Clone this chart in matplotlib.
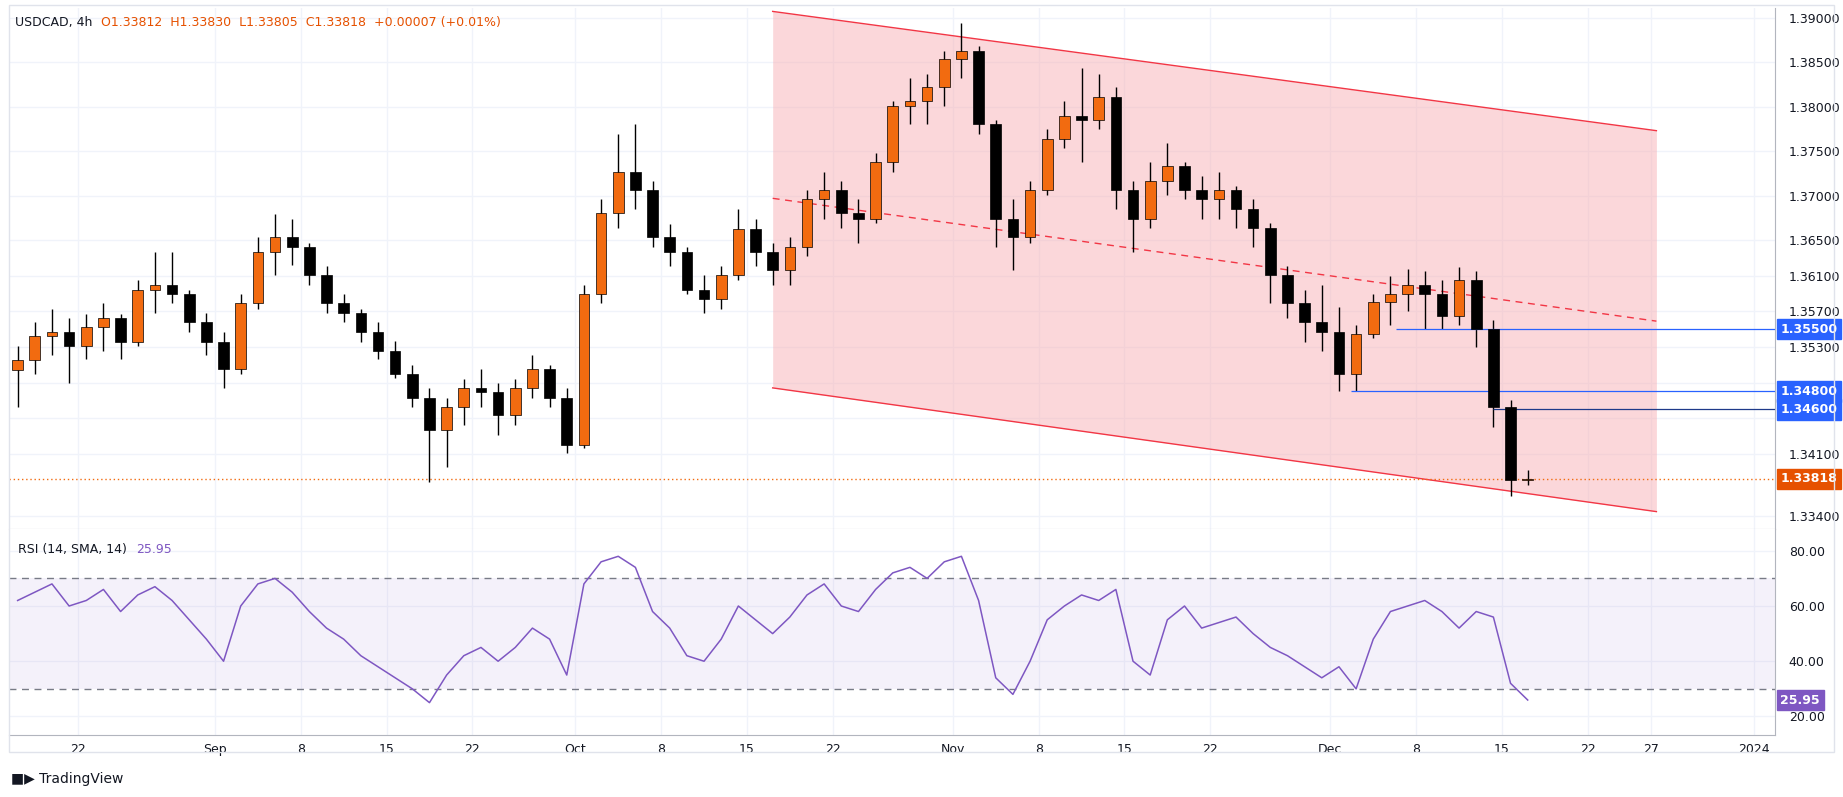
import matplotlib
matplotlib.use("Agg")
import matplotlib.pyplot as plt
from matplotlib.patches import Rectangle

# ---------------- data (daily aggregation of the 4h chart) ----------------
first_open = 1.3504
highs = [1.3531,1.3558,1.3573,1.3562,1.3567,1.3579,1.3567,1.3605,1.3637,1.3637,
         1.3594,1.3568,1.3547,1.3589,1.3653,1.3679,1.3674,1.3647,1.3621,1.3589,
         1.3573,1.3558,1.3537,1.3510,1.3484,1.3473,1.3494,1.3505,1.3489,1.3494,
         1.3521,1.3510,1.3484,1.3600,1.3696,1.3769,1.3780,1.3716,1.3668,1.3642,
         1.3611,1.3621,1.3685,1.3674,1.3647,1.3653,1.3706,1.3727,1.3716,1.3696,
         1.3748,1.3806,1.3832,1.3837,1.3863,1.3894,1.3868,1.3785,1.3696,1.3716,
         1.3775,1.3806,1.3843,1.3837,1.3822,1.3716,1.3738,1.3759,1.3738,1.3722,
         1.3727,1.3711,1.3696,1.3669,1.3621,1.3594,1.3600,1.3575,1.3555,1.3590,
         1.3610,1.3618,1.3615,1.3605,1.3620,1.3615,1.3560,1.3470,1.3392]
lows = [1.3463,1.3500,1.3521,1.3490,1.3516,1.3526,1.3516,1.3531,1.3568,1.3579,
        1.3547,1.3521,1.3484,1.3500,1.3573,1.3611,1.3622,1.3600,1.3568,1.3558,
        1.3536,1.3516,1.3495,1.3463,1.3378,1.3395,1.3442,1.3463,1.3431,1.3442,
        1.3473,1.3463,1.3411,1.3416,1.3579,1.3664,1.3685,1.3642,1.3621,1.3589,
        1.3568,1.3573,1.3605,1.3621,1.3600,1.3600,1.3632,1.3674,1.3664,1.3647,
        1.3669,1.3727,1.3780,1.3780,1.3801,1.3832,1.3769,1.3642,1.3616,1.3647,
        1.3701,1.3754,1.3738,1.3775,1.3685,1.3637,1.3664,1.3701,1.3696,1.3674,
        1.3674,1.3664,1.3642,1.3579,1.3563,1.3536,1.3526,1.3480,1.3480,1.3540,
        1.3555,1.3570,1.3550,1.3550,1.3555,1.3530,1.3440,1.3362,1.3375]
closes = [1.3515,1.3542,1.3547,1.3531,1.3552,1.3563,1.3536,1.3594,1.3600,1.3589,
          1.3558,1.3536,1.3505,1.3579,1.3637,1.3653,1.3642,1.3611,1.3579,1.3568,
          1.3547,1.3526,1.3500,1.3473,1.3437,1.3463,1.3484,1.3479,1.3453,1.3484,
          1.3505,1.3473,1.3420,1.3589,1.3680,1.3727,1.3706,1.3653,1.3637,1.3594,
          1.3584,1.3611,1.3663,1.3637,1.3616,1.3642,1.3696,1.3706,1.3680,1.3674,
          1.3738,1.3801,1.3806,1.3822,1.3853,1.3863,1.3780,1.3674,1.3653,1.3706,
          1.3764,1.3790,1.3785,1.3811,1.3706,1.3674,1.3716,1.3733,1.3706,1.3696,
          1.3706,1.3685,1.3664,1.3611,1.3579,1.3558,1.3547,1.3500,1.3545,1.3580,
          1.3590,1.3600,1.3590,1.3565,1.3605,1.3550,1.3462,1.3380,1.33818]
opens = [first_open] + closes[:-1]

rsi = [62,65,68,60,62,66,58,64,67,62,55,48,40,60,68,70,65,58,52,48,
       42,38,34,30,25,35,42,45,40,45,52,48,35,68,76,78,74,58,52,42,
       40,48,60,55,50,56,64,68,60,58,66,72,74,70,76,78,62,34,28,40,
       55,60,64,62,66,40,35,55,60,52,54,56,50,45,42,38,34,38,30,48,
       58,60,62,58,52,58,56,32,25.95]

date_pos = [3.5,11.5,16.5,21.5,26.5,32.5,37.5,42.5,47.5,54.5,59.5,64.5,69.5,
            76.5,81.5,86.5,91.5,95.2,101.2]
date_labels = ["22","Sep","8","15","22","Oct","8","15","22","Nov","8","15","22",
               "Dec","8","15","22","27","2024"]

price_ticks = [1.390,1.385,1.380,1.375,1.370,1.365,1.361,1.357,1.353,1.349,1.345,1.341,1.334]
hidden_ticks = [1.349, 1.345]
rsi_ticks = [20,40,60,80]

chan_x = [44.0, 95.5]
chan_top = [1.3907, 1.3773]
chan_bot = [1.3484, 1.3345]
chan_mid = [1.3697, 1.3559]

levels = [1.3550, 1.3480, 1.3460]
level_start = [80.3, 77.7, 86.0]
last_price = 1.33818
last_rsi = 25.95

# ---------------- styling ----------------
UP = "#f26b10"
DOWN = "#000000"
GRID = "#f0f3fa"
TXT = "#131722"
BLUE = "#2962ff"

fig = plt.figure(figsize=(18.43, 7.97), dpi=100)
fig.patch.set_facecolor("white")
ax = fig.add_axes([0.0051, 0.3363, 0.9579, 0.6534])
ax2 = fig.add_axes([0.0051, 0.0782, 0.9579, 0.2581], sharex=ax)

xs = list(range(len(closes)))
for a in (ax, ax2):
    a.set_xlim(-0.48, 102.4)
    for s in a.spines.values():
        s.set_color("#b2b5be")
    a.spines["left"].set_visible(False)
    a.spines["top"].set_visible(False)
    a.set_xticks(date_pos)
    a.grid(True, color=GRID, lw=1)
    a.set_axisbelow(True)
    a.yaxis.tick_right()
    a.tick_params(axis="y", length=0, labelsize=9, colors=TXT, pad=10)

# channel
ax.fill_between(chan_x, chan_bot, chan_top, color="#f7a8ae", alpha=0.45, lw=0, zorder=1)
ax.plot(chan_x, chan_top, color="#f23645", lw=1, zorder=2)
ax.plot(chan_x, chan_bot, color="#f23645", lw=1, zorder=2)
ax.plot(chan_x, chan_mid, color="#f23645", lw=1, ls=(0, (5, 4)), zorder=2)

# candles
for i in xs:
    o, h, l, c = opens[i], highs[i], lows[i], closes[i]
    col = UP if c >= o else DOWN
    ax.vlines(i, l, h, color="black", lw=1, zorder=3)
    ax.bar(i, max(abs(c - o), 0.00006), bottom=min(o, c), width=0.62,
           color=col, edgecolor="black", lw=0.5, zorder=4)

# levels
for lv, st in zip(levels, level_start):
    ax.hlines(lv, st, 102.4, color=BLUE if lv != 1.3460 else "#1e3a8a", lw=0.9, zorder=3)
ax.axhline(last_price, color=UP, lw=1, ls=(0, (1, 2)), zorder=2)

ax.set_ylim(1.33255, 1.39106)
ax.set_yticks(price_ticks)
ax.set_yticklabels(["" if t in hidden_ticks else f"{t:.5f}" for t in price_ticks])
ax.tick_params(axis="x", labelbottom=False, length=0)

def price_box(a, y, text, color):
    a.annotate(text, xy=(1.0, y), xycoords=("axes fraction", "data"),
               xytext=(4, 0), textcoords="offset points", va="center", ha="left",
               fontsize=9, color="white", fontweight="bold",
               bbox=dict(boxstyle="square,pad=0.3", fc=color, ec=color),
               annotation_clip=False, zorder=10)

price_box(ax, 1.3550, "1.35500", BLUE)
price_box(ax, 1.3480, "1.34800", BLUE)
price_box(ax, 1.3460, "1.34600", BLUE)
price_box(ax, last_price, "1.33818", "#e65100")

# header
fig.text(0.008, 0.972, "USDCAD, 4h", fontsize=9, color=TXT, va="center")
fig.text(0.055, 0.972, "O1.33812  H1.33830  L1.33805  C1.33818  +0.00007 (+0.01%)",
         fontsize=9, color="#e65100", va="center")

# RSI
ax2.axhspan(30, 70, color="#7e57c2", alpha=0.08, lw=0)
ax2.axhline(70, color="#787b86", lw=1, ls=(0, (5, 4)))
ax2.axhline(30, color="#787b86", lw=1, ls=(0, (5, 4)))
ax2.plot(xs, rsi, color="#7e57c2", lw=1.1)
ax2.set_ylim(13.4, 87.9)
ax2.set_yticks(rsi_ticks)
ax2.set_yticklabels([f"{t:.2f}" for t in rsi_ticks])
ax2.set_xticklabels(date_labels)
ax2.tick_params(axis="x", length=0, labelsize=9, colors=TXT, pad=6)
price_box(ax2, last_rsi, "25.95", "#7e57c2")
ax2.text(0.005, 0.9, "RSI (14, SMA, 14)", transform=ax2.transAxes, fontsize=9, color=TXT, va="center")
ax2.text(0.072, 0.9, "25.95", transform=ax2.transAxes, fontsize=9, color="#7e57c2", va="center")

# outer frame and logo
fig.patches.append(Rectangle((0.0051, 0.056), 0.9898, 0.938, transform=fig.transFigure,
                             fill=False, ec="#e0e3eb", lw=1))
fig.text(0.006, 0.022, "\u25A0\u25B6 TradingView", fontsize=10, color=TXT, va="center")

fig.savefig("out.png", dpi=100)
